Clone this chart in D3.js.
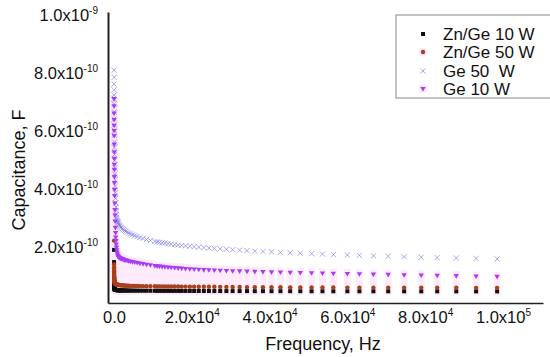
<!DOCTYPE html>
<html>
<head>
<meta charset="utf-8">
<script src="https://cdn.jsdelivr.net/npm/d3@7"></script>
<style>
  body { margin: 0; background: #fff; }
  svg { display: block; }
  text { font-family: "Liberation Sans", Arial, sans-serif; fill: #111; }
</style>
</head>
<body>
<svg id="chart" width="550" height="357"></svg>
<script>
// frequency sweep (Hz)
const freq = [
  20, 25, 30, 35, 40, 45, 50, 60, 70, 80,
  90, 100, 115, 130, 150, 170, 200, 230, 260, 300,
  350, 400, 450, 500, 560, 630, 710, 800, 900, 1000,
  1090, 1220, 1370, 1530, 1720, 1920, 2150, 2410, 2700, 3020,
  3380, 3790, 4240, 4750, 5320, 5960, 6670, 7470, 8360, 9360,
  10500, 11100, 11700, 12400, 13100, 13900, 14700, 15600, 16500, 17400,
  18400, 19500, 20600, 21800, 23100, 24400, 25800, 27300, 28900, 30500,
  32300, 34200, 36200, 38300, 40500, 42800, 45300, 47900, 50800, 53600,
  56400, 60000, 63100, 66700, 70500, 74600, 79000, 83100, 88000, 93100,
  98500
]

// capacitance in pF
const znGe10 = [
  190, 148, 96, 82, 74, 69, 66, 62, 60, 58.5,
  57.5, 56.8, 56, 55.4, 54.8, 54.3, 53.8, 53.4, 53.1, 52.8,
  52.5, 52.3, 52.1, 51.9, 51.7, 51.5, 51.3, 51.2, 51.1, 51,
  50.9, 50.8, 50.7, 50.6, 50.5, 50.4, 50.3, 50.2, 50.1, 50,
  49.9, 49.8, 49.7, 49.6, 49.5, 49.4, 49.3, 49.2, 49.1, 49,
  48.9, 48.9, 48.8, 48.8, 48.7, 48.7, 48.6, 48.6, 48.5, 48.5,
  48.4, 48.4, 48.3, 48.3, 48.2, 48.2, 48.1, 48.1, 48, 48,
  47.9, 47.9, 47.8, 47.8, 47.7, 47.7, 47.6, 47.6, 47.5, 47.5,
  47.4, 47.4, 47.3, 47.3, 47.2, 47.2, 47.1, 47.1, 47, 47,
  46.9
]
const znGe50 = [
  222, 140, 130, 122, 116, 111, 107, 101, 96, 92,
  89, 86.5, 84, 82, 80, 78.5, 77, 76, 75, 74.2,
  73.5, 72.8, 72.3, 71.8, 71.4, 71, 70.7, 70.4, 70.1, 69.8,
  69.5, 69.2, 68.9, 68.6, 68.3, 68, 67.7, 67.4, 67.1, 66.8,
  66.5, 66.2, 66, 65.8, 65.6, 65.4, 65.2, 65, 64.8, 64.6,
  64.4, 64.3, 64.2, 64.1, 64, 63.9, 63.8, 63.7, 63.6, 63.5,
  63.4, 63.3, 63.2, 63.1, 63, 62.9, 62.8, 62.6, 62.4, 62.2,
  62, 61.8, 61.6, 61.4, 61.2, 61, 60.8, 60.6, 60.4, 60.2,
  60.1, 60, 59.9, 59.8, 59.7, 59.6, 59.5, 59.4, 59.3, 59.2,
  59.1
]
const ge50 = [
  810, 785, 762, 742, 724, 708, 693, 666, 642, 621,
  602, 585, 562, 542, 519, 499, 473, 451, 432, 410,
  387, 368, 352, 338, 325, 313, 303, 296, 290, 286,
  283, 279, 276, 272.5, 269, 266, 263, 260, 257, 254,
  251, 248, 245, 242, 239, 236, 233, 229.5, 226, 222.5,
  219, 217.5, 216, 214.5, 213, 211.5, 210, 208.5, 207, 205.5,
  204, 202.5, 201, 199.5, 198, 196.5, 195, 193.5, 192, 190.5,
  189, 187.5, 186, 184.5, 183, 181.5, 180, 178.5, 177, 175.5,
  174, 172.5, 171, 169.5, 168, 166.5, 165, 163.5, 162, 160.5,
  159
]
const ge10 = [
  710, 685, 660, 638, 618, 600, 583, 553, 527, 504,
  484, 466, 442, 421, 397, 376, 350, 328, 309, 288,
  266, 248, 233, 221, 209, 198, 189, 181, 174, 168,
  166, 164.5, 163, 161.5, 160, 159, 158, 156.5, 155, 154,
  152.5, 151, 149.5, 148, 146.5, 145, 143, 141, 139, 137,
  134.5, 133.5, 132.5, 131.5, 130.5, 129.5, 128.5, 127.5, 126.5, 125.5,
  124.5, 123.5, 122.5, 121.5, 120.5, 119.8, 119, 118.3, 117.5, 116.8,
  116, 115.2, 114.4, 113.6, 112.8, 112, 111.2, 110.4, 109.5, 108.7,
  107.9, 107, 106, 105, 104, 103, 102, 100.8, 99.6, 98.3,
  97
]

const seriesNames = ["Zn/Ge 10 W", "Zn/Ge 50 W", "Ge 50  W", "Ge 10 W"]
const xTicks = [0, 2e4, 4e4, 6e4, 8e4, 1e5]
const yTicks = [2e-10, 4e-10, 6e-10, 8e-10, 1e-9]

const pF = 1e-12
const svg = d3.select("#chart")

const x = d3.scaleLinear().domain([-1540, 110300]).range([108, 543])
const y = d3.scaleLinear().domain([0.0069e-9, 1.0103e-9]).range([303, 12])

// label like 8.0x10^-10
function sciLabel(sel) {
  sel.each(function (v) {
    const t = d3.select(this).text("")
    if (v === 0) { t.text("0.0"); return }
    const [m, e] = v.toExponential(1).split("e")
    t.append("tspan").text(m + "x10")
    t.append("tspan").attr("dy", -7).attr("font-size", 10).text(parseInt(e))
  })
}

// pale pink patches behind the markers
svg.append("g").selectAll("rect")
  .data(freq)
  .join("rect")
  .attr("x", d => x(d) - 3.5)
  .attr("width", 7)
  .attr("y", (d, i) => y(ge10[i] * pF) - 5)
  .attr("height", (d, i) => y(znGe10[i] * pF) - y(ge10[i] * pF) + 9)
  .attr("fill", "#fdebfb")

// axes
const gx = svg.append("g")
  .attr("transform", `translate(0,${y.range()[0]})`)
  .call(d3.axisBottom(x).tickValues(xTicks).tickSize(0).tickSizeOuter(0))
gx.select(".domain").attr("stroke", "#222").attr("stroke-width", 1.5)
gx.selectAll("text")
  .attr("dy", null).attr("y", 20)
  .attr("font-size", 16.5)
  .call(sciLabel)

const gy = svg.append("g")
  .attr("transform", `translate(${x.range()[0]},0)`)
  .call(d3.axisLeft(y).tickValues(yTicks).tickSize(0).tickSizeOuter(0).tickPadding(10))
gy.select(".domain").attr("stroke", "#222").attr("stroke-width", 2)
gy.selectAll("text")
  .attr("dy", "0.35em")
  .attr("font-size", 16.5)
  .call(sciLabel)

svg.selectAll(".tick text").attr("fill", "#111").attr("font-family", '"Liberation Sans", Arial, sans-serif')

// axis titles
svg.append("text")
  .attr("transform", "translate(25,170) rotate(-90)")
  .attr("text-anchor", "middle")
  .attr("font-size", 18)
  .text("Capacitance, F")

svg.append("text")
  .attr("x", 323).attr("y", 350)
  .attr("text-anchor", "middle")
  .attr("font-size", 18)
  .text("Frequency, Hz")

// markers
const triDown = "M-2.7,-2L2.7,-2L0,2.6Z"
const cross = "M-2.6,-2.6L2.6,2.6M-2.6,2.6L2.6,-2.6"

svg.append("g").selectAll("rect")
  .data(freq)
  .join("rect")
  .attr("x", d => x(d) - 2)
  .attr("y", (d, i) => y(znGe10[i] * pF) - 2)
  .attr("width", 4).attr("height", 4)
  .attr("fill", "#111")

svg.append("g").selectAll("circle")
  .data(freq)
  .join("circle")
  .attr("cx", d => x(d))
  .attr("cy", (d, i) => y(znGe50[i] * pF))
  .attr("r", 2.2)
  .attr("fill", "#a8401c")

svg.append("g").selectAll("path")
  .data(freq)
  .join("path")
  .attr("d", cross)
  .attr("transform", (d, i) => `translate(${x(d)},${y(ge50[i] * pF)})`)
  .attr("fill", "none")
  .attr("stroke", "#6f6fe6")
  .attr("stroke-opacity", 0.6)
  .attr("stroke-width", 1)

svg.append("g").selectAll("path")
  .data(freq)
  .join("path")
  .attr("d", triDown)
  .attr("transform", (d, i) => `translate(${x(d)},${y(ge10[i] * pF)})`)
  .attr("fill", "#a83cf4")

// legend
const lg = svg.append("g").attr("transform", "translate(396,15)")
lg.append("rect")
  .attr("width", 170).attr("height", 83)
  .attr("fill", "#fff").attr("stroke", "#888").attr("stroke-width", 1)

const rowY = [19, 37, 56, 74]
const items = lg.selectAll("g.item")
  .data(seriesNames)
  .join("g")
  .attr("class", "item")
  .attr("transform", (d, i) => `translate(27,${rowY[i]})`)

items.filter((d, i) => i === 1 || i === 3)
  .append("rect")
  .attr("x", -3.5).attr("y", -3.5).attr("width", 7).attr("height", 7)
  .attr("fill", "#fbe2f8")

items.each(function (d, i) {
  const g = d3.select(this)
  if (i === 0) g.append("rect").attr("x", -2).attr("y", -2).attr("width", 4).attr("height", 4).attr("fill", "#111")
  if (i === 1) g.append("circle").attr("r", 2.2).attr("fill", "#a8401c")
  if (i === 2) g.append("path").attr("d", cross).attr("fill", "none").attr("stroke", "#6f6fe6").attr("stroke-opacity", 0.6)
  if (i === 3) g.append("path").attr("d", triDown).attr("fill", "#a83cf4")
})

items.append("text")
  .attr("x", 20).attr("y", 5.5)
  .attr("font-size", 17)
  .style("white-space", "pre")
  .text(d => d)
</script>
</body>
</html>
